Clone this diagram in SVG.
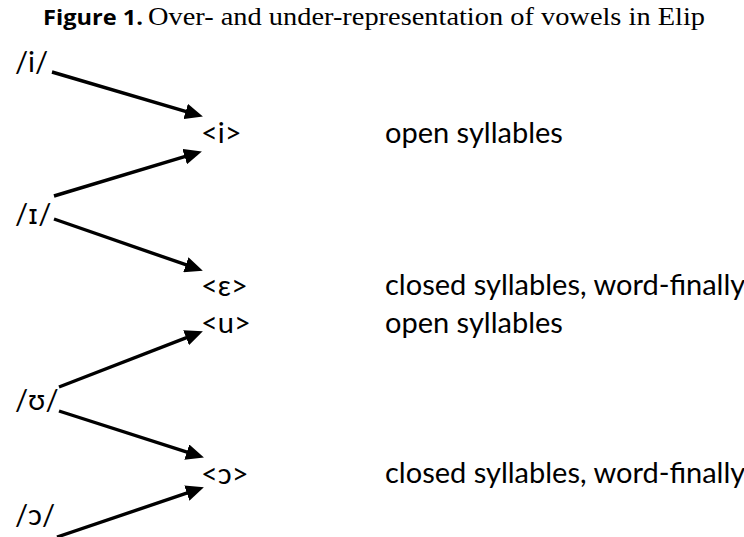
<svg xmlns="http://www.w3.org/2000/svg" width="744" height="537" viewBox="0 0 744 537">
<style>
.lbl{font-family:Lato,"DejaVu Sans",sans-serif;font-size:29px;fill:#000}
.ipa{font-family:"DejaVu Sans",sans-serif;font-size:27px}
.ttl{font-family:"Liberation Serif",serif;font-size:26px;fill:#000}
.ttlb{font-family:"Open Sans","Liberation Sans",sans-serif;font-weight:bold;font-size:22px;fill:#000}
.arr{stroke:#000;stroke-width:3.4;fill:none;marker-end:url(#ah)}
</style>
<defs>
<marker id="ah" markerUnits="userSpaceOnUse" markerWidth="18" markerHeight="16" viewBox="0 0 18 16" refX="6" refY="8" orient="auto">
<path d="M0,0 L18,8 L0,16 z" fill="#000"/>
</marker>
</defs>
<rect width="744" height="537" fill="#fff"/>
<g id="title">
<text class="ttlb" x="43" y="25" textLength="100" lengthAdjust="spacingAndGlyphs">Figure 1.</text>
<text class="ttl" x="148" y="25" textLength="557" lengthAdjust="spacingAndGlyphs">Over- and under-representation of vowels in Elip</text>
</g>
<g id="connectors">
<line class="arr" x1="52" y1="72" x2="191.4" y2="113.2"/>
<line class="arr" x1="54" y1="196" x2="190.4" y2="154.9"/>
<line class="arr" x1="54" y1="219" x2="191.5" y2="266.7"/>
<line class="arr" x1="59" y1="387" x2="191.7" y2="335.6"/>
<line class="arr" x1="59" y1="411" x2="192.5" y2="453.9"/>
<line class="arr" x1="57" y1="537" x2="192.5" y2="491.2"/>
</g>
<g id="node-i"><text class="lbl" x="15" y="72">/i/</text></g>
<g id="node-I"><text class="lbl" x="15" y="224">/<tspan class="ipa">ɪ</tspan>/</text></g>
<g id="node-U"><text class="lbl" x="15" y="410">/ʊ/</text></g>
<g id="node-o"><text class="lbl" x="15" y="525">/ɔ/</text></g>
<g id="node-gi"><text class="lbl" x="201" y="143">&lt;i&gt;</text></g>
<g id="node-ge"><text class="lbl" x="201" y="296">&lt;ε&gt;</text></g>
<g id="node-gu"><text class="lbl" x="201" y="333">&lt;u&gt;</text></g>
<g id="node-go"><text class="lbl" x="201" y="484">&lt;ɔ&gt;</text></g>
<g id="label-1"><text class="lbl" x="385" y="143">open syllables</text></g>
<g id="label-2"><text class="lbl" x="385" y="295">closed syllables, word-finally</text></g>
<g id="label-3"><text class="lbl" x="385" y="333">open syllables</text></g>
<g id="label-4"><text class="lbl" x="385" y="483">closed syllables, word-finally</text></g>
</svg>
